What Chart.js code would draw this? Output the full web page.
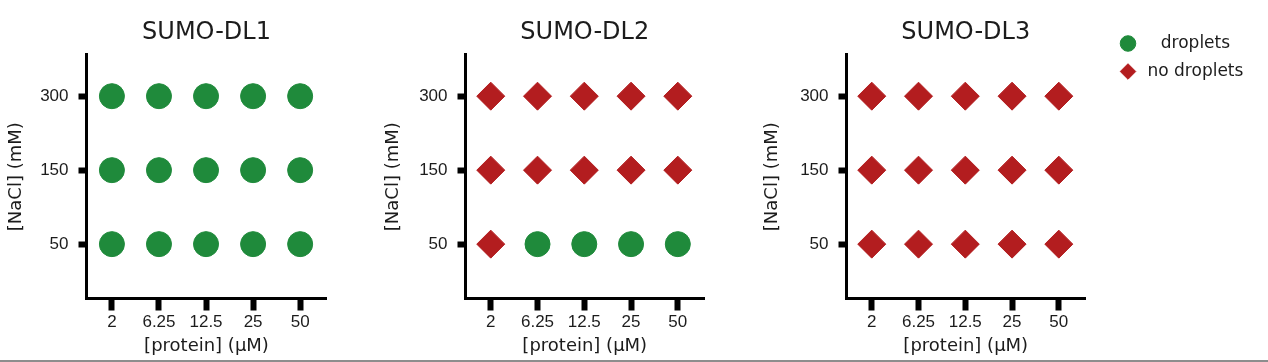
<!DOCTYPE html>
<html>
<head>
<meta charset="utf-8">
<title>SUMO-DL droplet formation</title>
<script src="https://cdn.jsdelivr.net/npm/chart.js@4.4.0/dist/chart.umd.min.js"></script>
<style>
  html, body { margin: 0; padding: 0; background: #fff; overflow: hidden; }
  body { width: 1268px; height: 362px; position: relative; }
  canvas { position: absolute; top: 0; }
  #rule { position: absolute; left: 0; top: 360px; width: 1268px; height: 2px; background: #8d8d8d; }
</style>
</head>
<body>
<canvas id="dl1" width="340" height="362" style="left:0px"></canvas>
<canvas id="dl2" width="340" height="362" style="left:379px"></canvas>
<canvas id="dl3" width="340" height="362" style="left:760px"></canvas>
<canvas id="key" width="320" height="90" style="left:1111px; top:24px"></canvas>
<div id="rule"></div>

<script>
// --- Data ---
const proteinLabels = ['2', '6.25', '12.5', '25', '50'];   // [protein] (µM)
const naclLabels = ['50', '150', '300'];                   // [NaCl] (mM)
const panelTitles = ['SUMO-DL1', 'SUMO-DL2', 'SUMO-DL3'];
const seriesLabels = ['droplets', 'no droplets'];

// 1 = droplets, 0 = no droplets. rows follow naclLabels, columns follow proteinLabels
const dl1Result = [
  [1, 1, 1, 1, 1],
  [1, 1, 1, 1, 1],
  [1, 1, 1, 1, 1],
];
const dl2Result = [
  [0, 1, 1, 1, 1],
  [0, 0, 0, 0, 0],
  [0, 0, 0, 0, 0],
];
const dl3Result = [
  [0, 0, 0, 0, 0],
  [0, 0, 0, 0, 0],
  [0, 0, 0, 0, 0],
];

const GREEN = '#1f8a3b';
const RED = '#b31d1f';
const INK = '#1c1c1c';
const TITLE_FONT = 'DejaVu Sans';
const TICK_FONT = 'Liberation Sans';

Chart.defaults.font.family = TITLE_FONT;
Chart.defaults.color = INK;

function pointsFor(result, flag) {
  const pts = [];
  result.forEach((row, j) => {
    row.forEach((v, i) => {
      if (v === flag) pts.push({ x: i, y: j });
    });
  });
  return pts;
}

function markerSets(result) {
  return [
    {
      label: seriesLabels[0],
      data: pointsFor(result, 1),
      pointStyle: 'circle',
      pointRadius: 12.5,
      backgroundColor: GREEN,
      borderColor: GREEN,
      borderWidth: 1,
    },
    {
      label: seriesLabels[1],
      data: pointsFor(result, 0),
      pointStyle: 'rectRot',
      pointRadius: 14,
      backgroundColor: RED,
      borderColor: RED,
      borderWidth: 1,
    },
  ];
}

// --- Panels ---
function makePanel(id, title, result, yTitleGap) {
  return new Chart(document.getElementById(id), {
    type: 'scatter',
    data: { datasets: markerSets(result) },
    options: {
      responsive: false,
      animation: false,
      layout: { padding: { left: 0, right: 9, top: 0, bottom: 0 } },
      plugins: {
        legend: { display: false },
        tooltip: { enabled: false },
        title: {
          display: true,
          text: title,
          fullSize: false,
          color: INK,
          font: { family: TITLE_FONT, size: 24, weight: 'normal' },
          padding: { top: 18.6, bottom: 7.5 },
        },
      },
      scales: {
        x: {
          type: 'linear',
          min: -0.54,
          max: 4.56,
          afterBuildTicks: axis => { axis.ticks = proteinLabels.map((_, i) => ({ value: i })); },
          afterFit: axis => { axis.height = 63.5; },
          ticks: {
            callback: v => proteinLabels[v],
            font: { family: TICK_FONT, size: 17 },
            color: INK,
            padding: 2,
            maxRotation: 0,
          },
          grid: { display: true, drawOnChartArea: false, drawTicks: true, tickLength: 12, tickWidth: 6, tickColor: '#000' },
          border: { display: true, color: '#000', width: 3 },
          title: {
            display: true,
            text: '[protein] (µM)',
            color: INK,
            font: { family: TITLE_FONT, size: 18 },
            padding: { top: 0, bottom: 5 },
          },
        },
        y: {
          type: 'linear',
          min: -0.735,
          max: 2.558,
          afterBuildTicks: axis => { axis.ticks = naclLabels.map((_, i) => ({ value: i })); },
          afterFit: axis => { axis.width = 86.5; },
          ticks: {
            callback: v => naclLabels[v],
            font: { family: TICK_FONT, size: 17 },
            color: INK,
            padding: 10,
          },
          grid: { display: true, drawOnChartArea: false, drawTicks: true, tickLength: 8, tickWidth: 6, tickColor: '#000' },
          border: { display: true, color: '#000', width: 3 },
          title: {
            display: true,
            text: '[NaCl] (mM)',
            color: INK,
            font: { family: TITLE_FONT, size: 18 },
            padding: { top: yTitleGap, bottom: 0 },
          },
        },
      },
    },
  });
}

makePanel('dl1', panelTitles[0], dl1Result, 6);
makePanel('dl2', panelTitles[1], dl2Result, 4);
makePanel('dl3', panelTitles[2], dl3Result, 2);

// --- Legend (own canvas, right of the last panel; it runs past the page edge so the legend gets its full width) ---
new Chart(document.getElementById('key'), {
  type: 'scatter',
  data: { datasets: markerSets([[]]) },
  options: {
    responsive: false,
    animation: false,
    layout: { padding: 0 },
    scales: { x: { display: false }, y: { display: false } },
    plugins: {
      tooltip: { enabled: false },
      title: { display: false },
      legend: {
        display: true,
        position: 'left',
        align: 'start',
        labels: {
          usePointStyle: true,
          boxWidth: 12,
          boxHeight: 11,
          padding: 11,
          textAlign: 'center',
          color: INK,
          font: { family: TITLE_FONT, size: 17 },
        },
      },
    },
  },
});
</script>
</body>
</html>
